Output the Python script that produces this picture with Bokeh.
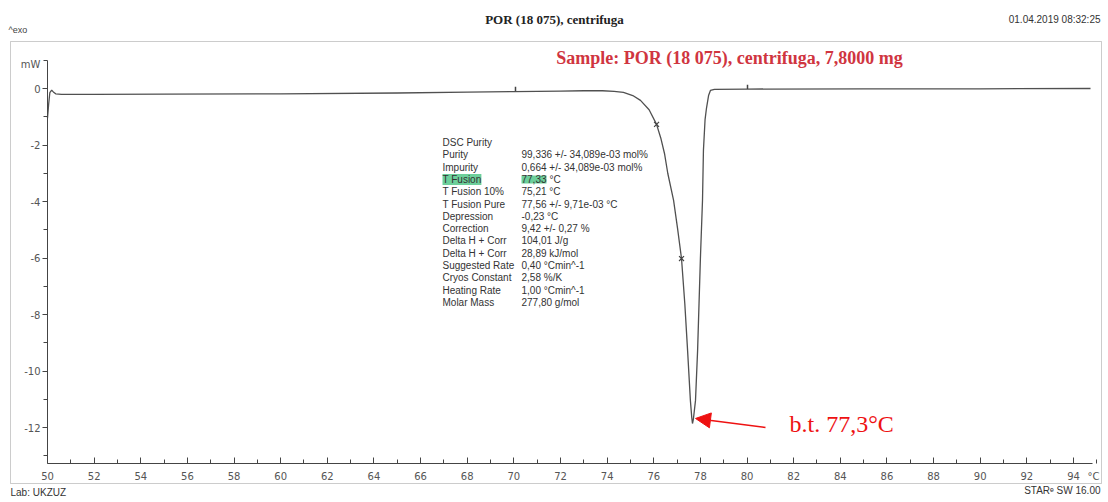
from bokeh.plotting import figure
from bokeh.models import LinearAxis, FixedTicker, Range1d, Label, Arrow, NormalHead, BoxAnnotation
from bokeh.embed import file_html
from bokeh.resources import INLINE

# ---- data ----
temp_C = [50.00, 50.05, 50.10, 50.18, 50.25, 50.35, 50.6, 52, 55, 60, 65, 68, 70, 72, 73,
          73.8, 74.3, 74.7, 75.1, 75.43, 75.8, 76.12, 76.3, 76.46, 76.6, 76.85, 77.02, 77.19,
          77.33, 77.45, 77.57, 77.63, 77.66, 77.70, 77.79, 77.88, 78.00, 78.09, 78.13, 78.2,
          78.26, 78.35, 78.43, 78.6, 80, 85, 90, 94.73]
heat_mW = [-1.05, -0.55, -0.15, -0.06, -0.12, -0.19, -0.21, -0.21, -0.20, -0.19, -0.16, -0.13,
           -0.11, -0.09, -0.08, -0.08, -0.10, -0.14, -0.25, -0.42, -0.75, -1.27, -1.75, -2.3,
           -3.0, -3.96, -4.95, -6.02, -7.6, -9.27, -11.04, -11.65, -11.86, -11.7, -11.04, -9.27,
           -6.02, -3.96, -2.19, -1.1, -0.7, -0.25, -0.07, -0.03, -0.02, -0.01, -0.01, 0.0]

marker_T = [76.12, 77.19]
marker_mW = [-1.27, -6.02]

limit_T = [70.07, 80.02]
limit_mW = [-0.09, -0.02]

x_ticks = list(range(50, 95, 2))
x_minor = list(range(51, 96, 2))
y_ticks = list(range(-12, 1, 2))
y_minor = list(range(-13, 2, 2))

table_names = ["DSC Purity", "Purity", "Impurity", "T Fusion", "T Fusion 10%", "T Fusion Pure",
               "Depression", "Correction", "Delta H + Corr", "Delta H + Corr", "Suggested Rate",
               "Cryos Constant", "Heating Rate", "Molar Mass"]
table_values = ["", "99,336 +/- 34,089e-03 mol%", "0,664 +/- 34,089e-03 mol%", "77,33",
                "75,21 °C", "77,56 +/- 9,71e-03 °C", "-0,23 °C", "9,42 +/- 0,27 %",
                "104,01 J/g", "28,89 kJ/mol", "0,40 °Cmin^-1", "2,58 %/K", "1,00 °Cmin^-1",
                "277,80 g/mol"]
highlight_row = 3

peak_label = "b.t. 77,3°C"
title_text = "POR (18 075), centrifuga"
sample_text = "Sample: POR (18 075), centrifuga, 7,8000 mg"
date_text = "01.04.2019 08:32:25"

# ---- pixel helpers (layout only) ----
PX_PER_C = 23.318
PX_PER_MW = 28.25

def px2T(px):
    return 50 + (px - 47) / PX_PER_C

def py2mW(py):
    return (88 - py) / PX_PER_MW

W, H = 1106, 500
p = figure(width=W, height=H, output_backend="svg", toolbar_location=None,
           x_range=Range1d(px2T(0), px2T(W)), y_range=Range1d(py2mW(H), py2mW(0)),
           x_axis_type=None, y_axis_type=None,
           min_border_left=0, min_border_right=0, min_border_top=0, min_border_bottom=0)
p.outline_line_color = None
p.background_fill_color = "white"
p.border_fill_color = "white"

# outer frame of the printout
p.add_layout(BoxAnnotation(left=px2T(10), right=px2T(1101), top=py2mW(41), bottom=py2mW(483),
                           fill_alpha=0, line_color="#555555", line_width=1))

AX_COL = "#444444"
LBL_COL = "#555555"

xaxis = LinearAxis(fixed_location=py2mW(463), bounds=(50, 94.8),
                   ticker=FixedTicker(ticks=x_ticks, minor_ticks=x_minor))
xaxis.axis_line_color = AX_COL
xaxis.major_tick_line_color = AX_COL
xaxis.minor_tick_line_color = AX_COL
xaxis.major_tick_in = 6
xaxis.major_tick_out = 0
xaxis.minor_tick_in = 4
xaxis.minor_tick_out = 0
xaxis.major_label_standoff = 8
xaxis.major_label_text_font = "DejaVu Sans"
xaxis.major_label_text_font_size = "10px"
xaxis.major_label_text_color = LBL_COL
xaxis.major_label_overrides = {t: str(t) for t in x_ticks}
p.add_layout(xaxis, "below")

yaxis = LinearAxis(fixed_location=50, bounds=(py2mW(463), py2mW(60)),
                   ticker=FixedTicker(ticks=y_ticks, minor_ticks=y_minor))
yaxis.axis_line_color = AX_COL
yaxis.major_tick_line_color = AX_COL
yaxis.minor_tick_line_color = AX_COL
yaxis.major_tick_in = 0
yaxis.major_tick_out = 5
yaxis.minor_tick_in = 0
yaxis.minor_tick_out = 4
yaxis.major_label_standoff = 2
yaxis.major_label_text_font = "DejaVu Sans"
yaxis.major_label_text_font_size = "10px"
yaxis.major_label_text_color = LBL_COL
yaxis.major_label_overrides = {t: str(t) for t in y_ticks}
p.add_layout(yaxis, "left")

# curve
p.line(temp_C, heat_mW, line_color="#505050", line_width=1.3)
p.scatter(marker_T, marker_mW, marker="x", size=7, line_color="#444444", line_width=1.2)
p.segment(x0=limit_T, x1=limit_T, y0=limit_mW, y1=[v + 0.15 for v in limit_mW],
          line_color="#444444", line_width=1.5)

# peak annotation
imin = heat_mW.index(min(heat_mW))
tip_x = temp_C[imin] + 0.13
tip_y = heat_mW[imin] + 0.18
p.add_layout(Arrow(end=NormalHead(size=15, fill_color="#ee1111", line_color="#ee1111"),
                   x_start=px2T(765), y_start=py2mW(427), x_end=tip_x, y_end=tip_y,
                   line_color="#ee1111", line_width=1.6))
p.add_layout(Label(x=px2T(789), y=py2mW(423), text=peak_label, text_font="Liberation Serif",
                   text_font_size="24px", text_color="#ee1111", text_baseline="middle",
                   text_align="left"))

# table
for i, (nm, val) in enumerate(zip(table_names, table_values)):
    yy = py2mW(142 + 12.3 * i)
    hl = (i == highlight_row)
    kw = dict(background_fill_color="#3cbf78", background_fill_alpha=0.75) if hl else {}
    p.add_layout(Label(x=px2T(442), y=yy, text=nm, text_font="Liberation Sans",
                       text_font_size="10px", text_color="#333333", text_baseline="middle", **kw))
    if val:
        p.add_layout(Label(x=px2T(521), y=yy, text=val, text_font="Liberation Sans",
                           text_font_size="10px", text_color="#333333", text_baseline="middle", **kw))
    if hl:
        p.add_layout(Label(x=px2T(521), y=yy, x_offset=28, text="°C", text_font="Liberation Sans",
                           text_font_size="10px", text_color="#333333", text_baseline="middle"))

# texts around the frame
p.add_layout(Label(x=px2T(554), y=py2mW(19), text=title_text, text_font="Liberation Serif",
                   text_font_style="bold", text_font_size="13px", text_color="#222222",
                   text_align="center", text_baseline="middle"))
p.add_layout(Label(x=px2T(729), y=py2mW(57), text=sample_text, text_font="Liberation Serif",
                   text_font_style="bold", text_font_size="18px", text_color="#d0353f",
                   text_align="center", text_baseline="middle"))
p.add_layout(Label(x=px2T(1100), y=py2mW(19), text=date_text, text_font="Liberation Sans",
                   text_font_size="10px", text_color="#333333",
                   text_align="right", text_baseline="middle"))
p.add_layout(Label(x=px2T(8), y=py2mW(29), text="^exo", text_font="Liberation Sans",
                   text_font_size="9px", text_color="#444444", text_baseline="middle"))
p.add_layout(Label(x=px2T(40), y=py2mW(64), text="mW", text_font="DejaVu Sans",
                   text_font_size="10px", text_color=LBL_COL, text_align="right",
                   text_baseline="middle"))
p.add_layout(Label(x=px2T(1087), y=py2mW(476), text="°C", text_font="DejaVu Sans",
                   text_font_size="10px", text_color=LBL_COL, text_align="left",
                   text_baseline="middle"))
p.add_layout(Label(x=px2T(10), y=py2mW(492), text="Lab: UKZUZ", text_font="Liberation Sans",
                   text_font_size="10px", text_color="#333333", text_baseline="middle"))
p.add_layout(Label(x=px2T(1100), y=py2mW(490), text="STARᵉ SW 16.00", text_font="Liberation Sans",
                   text_font_size="10px", text_color="#333333", text_align="right",
                   text_baseline="middle"))

open("out.html", "w").write(file_html(p, INLINE))
